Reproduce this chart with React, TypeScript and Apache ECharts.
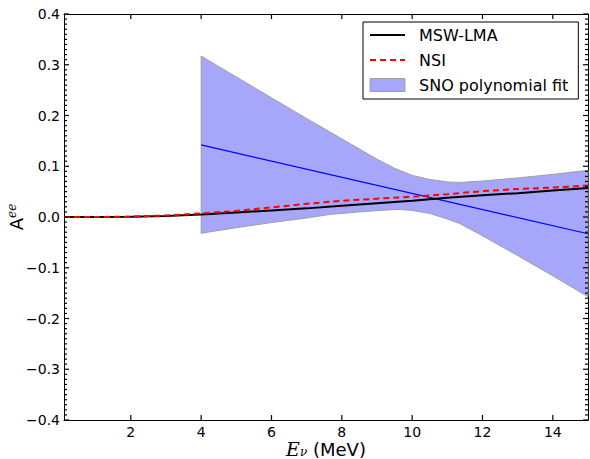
import React, { useEffect, useRef } from "react";
import * as echarts from "echarts";

const X_MIN = 0.1;
const X_MAX = 15;
const Y_MIN = -0.4;
const Y_MAX = 0.4;
const xTickValues = [2, 4, 6, 8, 10, 12, 14];
const yTickValues = [-0.4, -0.3, -0.2, -0.1, 0, 0.1, 0.2, 0.3, 0.4];

const lineX = [0.1, 1, 2, 3, 4, 5, 6, 7, 8, 9, 10, 11, 12, 13, 14, 15];
const mswLma = [0, 0, 0.0005, 0.002, 0.005, 0.009, 0.013, 0.017, 0.022, 0.027, 0.032, 0.038, 0.043, 0.047, 0.052, 0.057];
const nsi = [0, 0, 0.0008, 0.003, 0.007, 0.012, 0.019, 0.026, 0.032, 0.036, 0.04, 0.045, 0.051, 0.055, 0.058, 0.062];

const bandUpperX = [4, 5, 6, 7, 8, 9, 9.5, 10, 10.5, 11, 11.35, 12, 13, 14, 15];
const bandUpper = [0.317, 0.276, 0.235, 0.194, 0.154, 0.114, 0.096, 0.082, 0.074, 0.069, 0.068, 0.071, 0.077, 0.084, 0.092];
const bandLowerX = [4, 5, 6, 7, 7.65, 8.5, 9.08, 9.6, 10, 10.5, 11, 11.35, 11.92, 13, 14, 15];
const bandLower = [-0.032, -0.021, -0.011, -0.002, 0.005, 0.01, 0.013, 0.015, 0.013, 0.007, -0.004, -0.013, -0.034, -0.076, -0.116, -0.157];

const fitX = [4, 15];
const fitY = [0.142, -0.033];

const FONT = "DejaVu Sans";
const BAND_FILL = "#a6a6fa";
const BAND_EDGE = "#a0a0a0";

const pairs = (xs: number[], ys: number[]) => xs.map((x, i) => [x, ys[i]]);

export default function App() {
  const ref = useRef<HTMLDivElement>(null);
  useEffect(() => {
    if (!ref.current) return;
    const chart = echarts.init(ref.current, undefined, { renderer: "svg" });
    const yFmt = (v: number) => (v < -1e-9 ? "\u2212" : "") + Math.abs(v).toFixed(1);
    const axisLine = { show: true, onZero: false, lineStyle: { color: "#000", width: 1 } };
    const yCommon = {
      type: "value",
      min: Y_MIN,
      max: Y_MAX,
      interval: 0.1,
      splitLine: { show: false },
      axisLine,
      axisTick: { show: false },
      minorTick: { show: false },
    };
    const xCommon = {
      type: "value",
      min: X_MIN,
      max: X_MAX,
      splitLine: { show: false },
      axisLine,
      axisTick: { show: false },
    };

    const yMinor: number[] = [];
    for (let k = -40; k <= 40; k++) if (k % 10 !== 0) yMinor.push(k / 100);

    chart.setOption({
      animation: false,
      backgroundColor: "#fff",
      textStyle: { fontFamily: FONT },
      grid: { left: 64, right: 2, top: 14, bottom: 39, containLabel: false, outerBoundsMode: "none" },
      xAxis: [
        {
          ...xCommon,
          position: "bottom",
          axisLabel: { customValues: xTickValues, color: "#000", fontSize: 14, fontFamily: FONT, margin: 5 },
          name: "{e|E}{s|\u03bd} (MeV)",
          nameLocation: "middle",
          nameGap: 19,
          nameMoveOverlap: false,
          nameTextStyle: {
            color: "#000",
            fontSize: 18,
            fontFamily: FONT,
            lineHeight: 20,
            rich: {
              e: { fontFamily: "DejaVu Serif", fontStyle: "italic", fontSize: 19, color: "#000", lineHeight: 20 },
              s: { fontFamily: "DejaVu Serif", fontStyle: "italic", fontSize: 12, color: "#000", lineHeight: 12, padding: [6, 0, 0, 0] },
            },
          },
        },
        {
          ...xCommon,
          position: "top",
          axisLabel: { show: false },
        },
      ],
      yAxis: [
        {
          ...yCommon,
          position: "left",
          axisLabel: { formatter: yFmt, color: "#000", fontSize: 14, fontFamily: FONT, margin: 4 },
          name: "A{s|ee}",
          nameLocation: "middle",
          nameGap: 38,
          nameMoveOverlap: false,
          nameTextStyle: {
            color: "#000",
            fontSize: 18,
            fontFamily: FONT,
            rich: {
              s: { fontFamily: "DejaVu Serif", fontStyle: "italic", fontSize: 12, color: "#000", padding: [0, 0, 8, 0] },
            },
          },
        },
        {
          ...yCommon,
          position: "right",
          axisLabel: { show: false },
        },
      ],
      legend: {
        orient: "vertical",
        left: 363,
        top: 22,
        padding: [5, 10, 6, 6],
        itemWidth: 35,
        itemHeight: 13,
        itemGap: 9,
        borderColor: "#000",
        borderWidth: 1,
        borderRadius: 0,
        backgroundColor: "#fff",
        textStyle: { fontSize: 16, fontFamily: FONT, color: "#000", lineHeight: 16, padding: [0, 0, 0, 9] },
        data: [
          { name: "MSW-LMA", itemStyle: { opacity: 0 } },
          { name: "NSI", itemStyle: { opacity: 0 } },
          { name: "SNO polynomial fit", icon: "rect", itemStyle: { color: BAND_FILL, borderColor: BAND_EDGE, borderWidth: 1 } },
        ],
      },
      series: [
        {
          name: "SNO polynomial fit",
          type: "custom",
          xAxisIndex: 0,
          yAxisIndex: 0,
          itemStyle: { color: BAND_FILL, borderColor: BAND_EDGE },
          data: [[bandUpperX[0], bandUpper[0]]],
          renderItem: (params: any, api: any) => {
            const pts: number[][] = [];
            for (let i = 0; i < bandUpperX.length; i++) pts.push(api.coord([bandUpperX[i], bandUpper[i]]));
            for (let i = bandLowerX.length - 1; i >= 0; i--) pts.push(api.coord([bandLowerX[i], bandLower[i]]));
            return {
              type: "polygon",
              shape: { points: pts },
              style: { fill: BAND_FILL, stroke: BAND_EDGE, lineWidth: 1 },
            };
          },
          z: 1,
        },
        {
          name: "fit",
          type: "line",
          data: pairs(fitX, fitY),
          symbol: "none",
          lineStyle: { color: "#0000ff", width: 1.2 },
          z: 2,
        },
        {
          name: "MSW-LMA",
          type: "line",
          data: pairs(lineX, mswLma),
          symbol: "none",
          itemStyle: { color: "#000" },
          lineStyle: { color: "#000", width: 2 },
          z: 3,
        },
        {
          name: "NSI",
          type: "line",
          data: pairs(lineX, nsi),
          symbol: "none",
          itemStyle: { color: "#ff0000" },
          lineStyle: { color: "#ff0000", width: 2, type: [6, 4] },
          z: 4,
        },
        {
          name: "ticks",
          type: "custom",
          xAxisIndex: 0,
          yAxisIndex: 0,
          clip: false,
          silent: true,
          data: [[1, 0]],
          renderItem: (params: any, api: any) => {
            const children: any[] = [];
            const seg = (x1: number, y1: number, x2: number, y2: number) =>
              children.push({
                type: "line",
                shape: { x1, y1, x2, y2 },
                style: { stroke: "#000", lineWidth: 1.2 },
              });
            const MAJ = 5;
            const MIN = 3;
            for (const v of xTickValues) {
              const b = api.coord([v, Y_MIN]);
              const t = api.coord([v, Y_MAX]);
              seg(b[0], b[1], b[0], b[1] - MAJ);
              seg(t[0], t[1], t[0], t[1] + MAJ);
            }
            const yTick = (v: number, len: number) => {
              const l = api.coord([X_MIN, v]);
              const r = api.coord([X_MAX, v]);
              seg(l[0], l[1], l[0] + len, l[1]);
              seg(r[0], r[1], r[0] - len, r[1]);
            };
            for (const v of yTickValues) yTick(v, MAJ);
            for (const v of yMinor) yTick(v, MIN);
            return { type: "group", children };
          },
          z: 10,
        },
      ],
    });
    return () => chart.dispose();
  }, []);
  return <div ref={ref} style={{ width: 590, height: 459, position: "absolute", left: 0, top: 0 }} />;
}
